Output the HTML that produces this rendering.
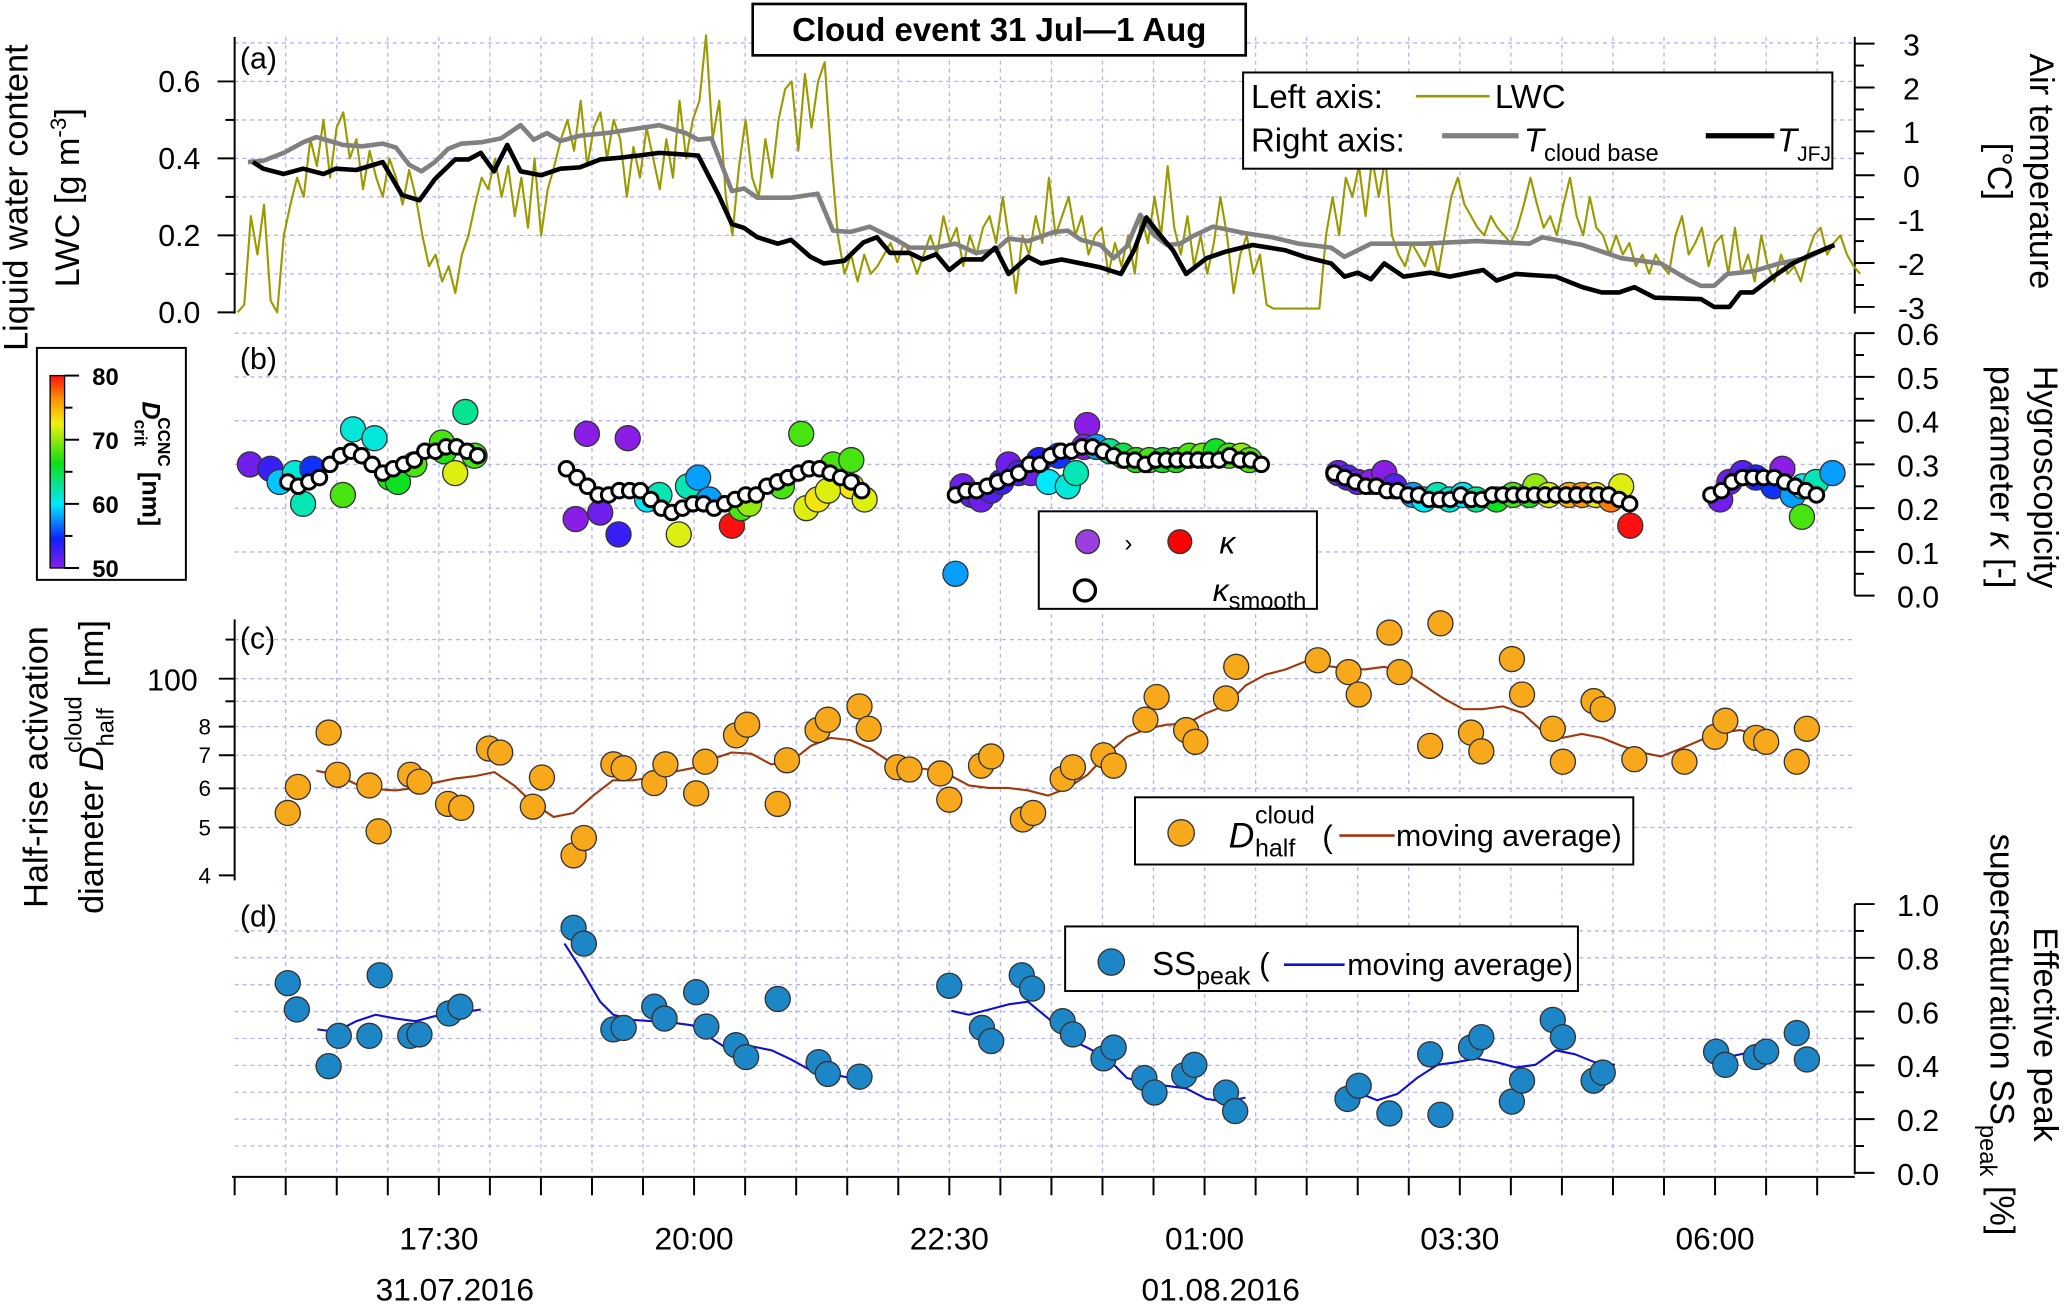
<!DOCTYPE html>
<html><head><meta charset="utf-8"><title>Cloud event 31 Jul–1 Aug</title>
<style>
html,body{margin:0;padding:0;background:#fff;}
svg{display:block;font-family:"Liberation Sans",Arial,sans-serif;}
</style></head>
<body>
<svg id="chart" xmlns="http://www.w3.org/2000/svg" width="2067" height="1306" viewBox="0 0 1568 991" preserveAspectRatio="none">
  <defs>
    <linearGradient id="cmap" x1="0" y1="1" x2="0" y2="0">
      <stop offset="0" stop-color="#8a1ee6"/>
      <stop offset="0.15" stop-color="#1020ff"/>
      <stop offset="0.33" stop-color="#00e8ff"/>
      <stop offset="0.55" stop-color="#10e010"/>
      <stop offset="0.75" stop-color="#f0f010"/>
      <stop offset="0.88" stop-color="#ff9000"/>
      <stop offset="1" stop-color="#ff1010"/>
    </linearGradient>
  </defs>
  <g id="grid"></g>
  <g id="axes"></g>
  <g id="marks"></g>

  <!-- title -->
  <g>
    <rect x="571" y="3" width="374" height="39" fill="#fff" stroke="#000" stroke-width="2"/>
    <text x="758" y="31" text-anchor="middle" font-size="25" font-weight="bold">Cloud event 31 Jul—1 Aug</text>
  </g>

  <!-- panel labels -->
  <text x="182" y="52" font-size="23">(a)</text>
  <text x="182" y="280" font-size="23">(b)</text>
  <text x="182" y="492" font-size="23">(c)</text>
  <text x="182" y="703" font-size="23">(d)</text>

  <!-- axis titles -->
  <g font-size="26">
    <text transform="translate(21,150) rotate(-90)" text-anchor="middle">Liquid water content</text>
    <text transform="translate(60,150) rotate(-90)" text-anchor="middle">LWC [g m<tspan dy="-10" font-size="17">-3</tspan><tspan dy="10">]</tspan></text>
  </g>
  <g font-size="26">
    <text transform="translate(36,582) rotate(-90)" text-anchor="middle">Half-rise activation</text>
    <text transform="translate(78,582) rotate(-90)" text-anchor="middle">diameter <tspan font-style="italic">D</tspan><tspan dy="8" font-size="18">half</tspan><tspan dx="-34" dy="-24" font-size="18">cloud</tspan><tspan dy="16"> [nm]</tspan></text>
  </g>
  <g font-size="26">
    <text transform="translate(1540,130) rotate(90)" text-anchor="middle">Air temperature</text>
    <text transform="translate(1508,130) rotate(90)" text-anchor="middle">[°C]</text>
  </g>
  <g font-size="26">
    <text transform="translate(1543,362) rotate(90)" text-anchor="middle">Hygroscopicity</text>
    <text transform="translate(1510,362) rotate(90)" text-anchor="middle">parameter <tspan font-style="italic">κ</tspan> [-]</text>
  </g>
  <g font-size="26">
    <text transform="translate(1543,785) rotate(90)" text-anchor="middle">Effective peak</text>
    <text transform="translate(1510,785) rotate(90)" text-anchor="middle">supersaturation SS<tspan dy="8" font-size="18">peak</tspan><tspan dy="-8"> [%]</tspan></text>
  </g>

  <!-- date labels -->
  <text x="345" y="987" text-anchor="middle" font-size="24">31.07.2016</text>
  <text x="926" y="987" text-anchor="middle" font-size="24">01.08.2016</text>

  <!-- colorbar -->
  <g>
    <rect x="28" y="264" width="113" height="176" fill="#fff" stroke="#000" stroke-width="1.5"/>
    <rect x="38" y="285" width="11" height="146" fill="url(#cmap)" stroke="#000" stroke-width="1"/>
    <g id="cbticks"></g>
    <text transform="translate(108,352) rotate(90)" text-anchor="middle" font-size="19" font-weight="bold"><tspan font-style="italic">D</tspan><tspan dy="6" font-size="13">crit</tspan><tspan dx="-22" dy="-18" font-size="13">CCNC</tspan><tspan dy="12" dx="4">[nm]</tspan></text>
  </g>

  <!-- legend a -->
  <g>
    <rect x="943" y="55" width="447" height="73" fill="#fff" stroke="#000" stroke-width="1.5"/>
    <text x="949" y="82" font-size="25">Left axis:</text>
    <line x1="1074" y1="73" x2="1130" y2="73" stroke="#9a9a00" stroke-width="2"/>
    <text x="1134" y="82" font-size="25">LWC</text>
    <text x="949" y="115" font-size="25">Right axis:</text>
    <line x1="1094" y1="103" x2="1152" y2="103" stroke="#808080" stroke-width="4"/>
    <text x="1156" y="115" font-size="25"><tspan font-style="italic">T</tspan><tspan dy="7" font-size="18">cloud base</tspan></text>
    <line x1="1294" y1="103" x2="1346" y2="103" stroke="#000" stroke-width="4"/>
    <text x="1348" y="115" font-size="25"><tspan font-style="italic">T</tspan><tspan dy="7" font-size="16">JFJ</tspan></text>
  </g>

  <!-- legend b -->
  <g>
    <rect x="788" y="388" width="211" height="74" fill="#fff" stroke="#000" stroke-width="1.5"/>
    <circle cx="825" cy="411" r="9" fill="#9b3fe0" stroke="#333" stroke-width="1"/>
    <text x="853" y="418" font-size="18">›</text>
    <circle cx="895" cy="411" r="9" fill="#ff0000" stroke="#333" stroke-width="1"/>
    <text x="925" y="420" font-size="24" font-style="italic">κ</text>
    <circle cx="823" cy="448" r="8" fill="#fff" stroke="#000" stroke-width="2.5"/>
    <text x="920" y="456" font-size="24"><tspan font-style="italic">κ</tspan><tspan dy="6" font-size="18">smooth</tspan></text>
  </g>

  <!-- legend c -->
  <g>
    <rect x="861" y="605" width="378" height="51" fill="#fff" stroke="#000" stroke-width="1.5"/>
    <circle cx="896" cy="632" r="10" fill="#f7a81b" stroke="#333" stroke-width="1"/>
    <text x="932" y="643" font-size="27" font-style="italic">D</text>
    <text x="952" y="650" font-size="19">half</text>
    <text x="952" y="625" font-size="19">cloud</text>
    <text x="1003" y="643" font-size="24">(</text>
    <line x1="1016" y1="634" x2="1058" y2="634" stroke="#a0380c" stroke-width="2"/>
    <text x="1059" y="642" font-size="23">moving average)</text>
  </g>

  <!-- legend d -->
  <g>
    <rect x="808" y="703" width="389" height="49" fill="#fff" stroke="#000" stroke-width="1.5"/>
    <circle cx="843" cy="730" r="10" fill="#1d86c6" stroke="#333" stroke-width="1"/>
    <text x="874" y="740" font-size="25">SS<tspan dy="7" font-size="19">peak</tspan><tspan dy="-7" font-size="24"> (</tspan></text>
    <line x1="974" y1="732" x2="1020" y2="732" stroke="#1010d0" stroke-width="2"/>
    <text x="1022" y="740" font-size="23">moving average)</text>
  </g>
</svg>

<script>
// ---------- DATA ----------
// time in hours since 15:30 on 31.07.2016
const lwcStartHour = 0.03;
const lwcStepHour = 0.0646;
const lwcValues = [0.0,0.02,0.25,0.15,0.28,0.03,0.0,0.2,0.28,0.35,0.3,0.45,0.38,0.5,0.35,0.48,0.52,0.4,0.45,0.32,0.42,0.35,0.3,0.4,0.35,0.28,0.37,0.3,0.2,0.12,0.15,0.08,0.12,0.05,0.15,0.2,0.28,0.35,0.32,0.4,0.3,0.38,0.25,0.35,0.22,0.4,0.2,0.32,0.38,0.45,0.5,0.42,0.55,0.38,0.48,0.52,0.4,0.5,0.45,0.3,0.43,0.35,0.48,0.4,0.32,0.45,0.35,0.55,0.4,0.5,0.55,0.72,0.45,0.55,0.3,0.2,0.38,0.5,0.35,0.3,0.45,0.35,0.5,0.58,0.6,0.42,0.62,0.48,0.6,0.65,0.4,0.2,0.1,0.15,0.08,0.15,0.1,0.12,0.15,0.18,0.13,0.18,0.15,0.1,0.15,0.2,0.15,0.25,0.18,0.22,0.12,0.2,0.15,0.22,0.25,0.18,0.3,0.18,0.05,0.2,0.15,0.25,0.18,0.35,0.2,0.25,0.3,0.2,0.25,0.15,0.2,0.22,0.1,0.18,0.12,0.2,0.1,0.25,0.18,0.3,0.2,0.38,0.22,0.15,0.25,0.12,0.2,0.1,0.18,0.3,0.2,0.05,0.15,0.2,0.1,0.15,0.02,0.01,0.01,0.01,0.01,0.01,0.01,0.01,0.01,0.2,0.3,0.2,0.35,0.3,0.38,0.25,0.4,0.3,0.4,0.2,0.15,0.12,0.18,0.15,0.12,0.18,0.1,0.2,0.3,0.35,0.28,0.25,0.22,0.2,0.25,0.22,0.2,0.18,0.22,0.28,0.35,0.28,0.22,0.25,0.2,0.28,0.35,0.25,0.2,0.3,0.22,0.2,0.15,0.2,0.15,0.18,0.12,0.15,0.1,0.15,0.12,0.1,0.2,0.25,0.15,0.18,0.22,0.12,0.18,0.2,0.1,0.22,0.1,0.15,0.08,0.2,0.12,0.08,0.15,0.1,0.12,0.08,0.15,0.2,0.22,0.15,0.18,0.2,0.15,0.12,0.1];

const tCloudTimes = [0.13,0.28,0.48,0.67,0.80,0.93,1.06,1.25,1.45,1.58,1.71,1.83,1.96,2.09,2.22,2.41,2.61,2.80,2.93,3.06,3.19,3.38,3.64,3.90,4.16,4.42,4.54,4.67,4.87,4.99,5.12,5.45,5.71,5.86,6.03,6.22,6.48,6.61,6.87,7.06,7.26,7.45,7.58,7.77,8.03,8.16,8.29,8.48,8.61,8.74,8.87,9.00,9.13,9.26,9.39,9.58,9.90,10.16,10.42,10.74,10.87,11.13,11.65,12.16,12.68,12.81,13.20,13.58,13.97,14.23,14.36,14.49,14.62,14.87,15.13,15.39,15.58];
const tCloudValues = [0.30,0.33,0.51,0.75,0.87,0.78,0.69,0.66,0.72,0.63,0.24,0.09,0.30,0.60,0.72,0.75,0.84,1.14,0.81,0.96,0.78,0.90,0.96,1.05,1.14,0.96,0.81,0.84,-0.36,-0.30,-0.51,-0.51,-0.42,-1.26,-1.29,-1.17,-1.47,-1.65,-1.65,-1.56,-1.77,-1.71,-1.44,-1.50,-1.29,-1.26,-1.47,-1.59,-1.89,-1.62,-0.90,-1.35,-1.59,-1.56,-1.38,-1.17,-1.32,-1.41,-1.56,-1.65,-1.86,-1.56,-1.56,-1.50,-1.56,-1.41,-1.59,-1.89,-2.01,-2.37,-2.52,-2.52,-2.25,-2.19,-2.01,-1.89,-1.68];

const tJfjTimes = [0.18,0.28,0.48,0.67,0.87,0.99,1.19,1.45,1.64,1.81,1.96,2.16,2.29,2.41,2.54,2.67,2.80,3.00,3.19,3.38,3.58,3.77,3.96,4.16,4.35,4.54,4.74,4.87,4.99,5.12,5.32,5.45,5.64,5.77,5.97,6.16,6.29,6.42,6.61,6.74,6.87,7.00,7.13,7.32,7.45,7.58,7.77,7.90,8.10,8.29,8.48,8.68,8.81,8.93,9.06,9.19,9.32,9.52,9.71,9.97,10.29,10.48,10.74,10.87,11.00,11.13,11.26,11.45,11.71,11.90,12.23,12.36,12.55,12.94,13.20,13.39,13.56,13.71,13.91,14.36,14.49,14.64,14.75,14.87,15.07,15.26,15.45,15.67];
const tJfjValues = [0.30,0.15,0.03,0.15,0.03,0.15,0.12,0.30,-0.45,-0.57,-0.09,0.36,0.36,0.51,0.09,0.69,0.09,0.0,0.15,0.18,0.36,0.40,0.45,0.51,0.48,0.45,-0.45,-1.11,-1.20,-1.41,-1.56,-1.47,-1.86,-2.01,-1.95,-1.53,-1.41,-1.77,-1.77,-1.92,-1.80,-2.16,-1.92,-1.92,-1.65,-2.25,-1.86,-2.01,-1.92,-2.01,-2.10,-2.25,-1.71,-0.96,-1.35,-1.71,-2.25,-1.89,-1.74,-1.59,-1.71,-1.86,-2.01,-2.31,-2.22,-2.37,-2.01,-2.31,-2.22,-2.31,-2.16,-2.40,-2.25,-2.31,-2.55,-2.67,-2.67,-2.55,-2.79,-2.82,-3.0,-3.0,-2.67,-2.67,-2.31,-2.01,-1.80,-1.59];

const kappaTimes = [0.15,0.35,0.44,0.59,0.67,0.76,1.06,1.16,1.37,1.52,1.60,1.76,2.05,2.03,2.16,2.26,2.35,
 3.34,3.45,3.58,3.76,3.85,4.04,4.16,4.35,4.44,4.54,4.65,4.87,4.96,5.04,5.36,5.55,5.60,5.71,5.86,6.04,6.04,6.17,5.81,
 7.06,7.13,7.22,7.31,7.41,7.51,7.58,7.68,7.80,7.88,7.97,8.07,8.16,8.24,8.35,8.32,8.44,8.57,8.70,8.83,8.96,9.09,9.22,9.35,9.48,9.61,9.74,9.86,9.94,
 10.81,10.90,11.00,11.13,11.26,11.36,11.54,11.65,11.78,11.90,12.03,12.16,12.36,12.52,12.68,12.74,12.87,13.07,13.20,13.33,13.48,13.58,13.67,
 14.55,14.64,14.77,14.90,15.07,15.16,15.26,15.36,15.49,15.65,15.35];
const kappaValues = [0.30,0.29,0.26,0.28,0.21,0.29,0.23,0.38,0.36,0.27,0.26,0.30,0.33,0.35,0.28,0.42,0.32,
 0.175,0.37,0.19,0.14,0.36,0.22,0.23,0.14,0.25,0.27,0.22,0.16,0.20,0.21,0.25,0.37,0.20,0.22,0.30,0.31,0.25,0.22,0.24,
 0.05,0.25,0.23,0.22,0.24,0.26,0.30,0.28,0.28,0.31,0.26,0.32,0.25,0.28,0.39,0.34,0.34,0.33,0.32,0.31,0.31,0.31,0.31,0.32,0.32,0.33,0.32,0.32,0.31,
 0.28,0.27,0.26,0.26,0.28,0.25,0.23,0.22,0.23,0.22,0.23,0.22,0.22,0.23,0.23,0.25,0.23,0.23,0.23,0.23,0.22,0.25,0.16,
 0.22,0.26,0.28,0.27,0.25,0.29,0.23,0.25,0.26,0.28,0.18];
const kappaDcrit = [51,53,59,61,62,55,68,61,61,67,66,68,67,68,72,63,68,
 50,50,51,53,50,60,62,72,62,58,58,80,68,70,68,68,72,73,68,68,73,72,72,
 58,51,52,51,52,53,51,52,51,54,60,55,61,62,50,50,58,63,65,67,68,66,67,68,69,66,68,70,68,
 51,52,51,50,50,52,58,60,62,61,60,63,66,68,67,70,72,75,76,73,77,72,80,
 51,51,52,54,55,50,58,60,62,58,68];

const kSmoothStarts = [0.52, 3.25, 7.06, 10.77, 14.46];
const kSmoothStep = 0.1033;
const kSmooth1 = [0.26,0.25,0.26,0.27,0.30,0.32,0.33,0.32,0.30,0.28,0.29,0.30,0.31,0.33,0.33,0.34,0.34,0.33,0.32];
const kSmooth2 = [0.29,0.27,0.25,0.23,0.23,0.24,0.24,0.24,0.22,0.20,0.19,0.20,0.21,0.21,0.20,0.21,0.22,0.23,0.23,0.25,0.26,0.27,0.28,0.29,0.29,0.28,0.27,0.26,0.24];
const kSmooth3 = [0.23,0.24,0.24,0.25,0.26,0.27,0.28,0.30,0.30,0.32,0.33,0.33,0.34,0.34,0.33,0.32,0.31,0.31,0.30,0.31,0.31,0.31,0.31,0.31,0.31,0.31,0.32,0.31,0.31,0.30];
const kSmooth4 = [0.28,0.27,0.26,0.25,0.25,0.24,0.24,0.23,0.23,0.22,0.22,0.22,0.23,0.22,0.22,0.23,0.23,0.23,0.23,0.23,0.23,0.23,0.23,0.23,0.23,0.23,0.23,0.22,0.21];
const kSmooth5 = [0.23,0.24,0.26,0.27,0.27,0.27,0.27,0.26,0.25,0.24,0.23];

const dhalfTimes = [0.52,0.62,0.92,1.01,1.32,1.41,1.72,1.81,2.09,2.22,2.49,2.60,2.92,3.01,3.32,3.42,3.71,3.81,4.11,4.22,4.52,4.61,4.91,5.02,5.32,5.41,5.71,5.81,6.12,6.21,6.49,6.61,6.91,7.00,7.31,7.41,7.72,7.82,8.11,8.21,8.51,8.61,8.92,9.03,9.32,9.41,9.71,9.81,10.61,10.91,11.01,11.31,11.41,11.71,11.81,12.11,12.21,12.51,12.61,12.91,13.01,13.31,13.40,13.71,14.20,14.50,14.60,14.90,15.00,15.30,15.40];
const dhalfValues = [53.5,60.4,77.8,63.9,60.8,49.1,63.9,61.9,55.8,54.8,72.2,70.9,55.1,63.1,43.9,47.6,67.1,65.9,61.5,67.1,58.6,67.9,76.8,80.7,55.8,68.4,78.7,82.6,87.9,79.2,66.2,65.5,64.3,56.9,66.7,69.6,51.9,53.5,62.7,66.2,70.0,66.7,82.6,91.8,78.7,74.5,91.2,105.7,109,103.1,92.9,124,103.1,73.1,129.4,77.8,71.3,109.6,92.9,79.2,67.9,90.1,86.8,68.7,67.9,76.3,82.2,75.9,74.5,67.9,79.2];
const dAvgStart = 0.80;
const dAvgStep = 0.1937;
const dAvgValues = [65.1,64.0,61.2,59.8,59.4,60.1,61.6,62.8,63.5,64.7,60.8,55.8,52.5,53.5,58.0,62.3,62.3,63.1,64.7,65.9,68.7,70.9,70.5,67.1,67.9,73.1,75.9,75.1,72.2,67.9,66.2,65.5,63.9,60.8,60.1,60.1,59.4,58.0,60.1,63.9,70.5,76.3,79.2,80.7,81.1,85.2,88.4,97.0,101.9,104.4,108.3,106.3,105.0,104.4,105.7,103.1,97.0,91.2,86.8,86.8,87.9,85.2,78.2,75.9,77.3,75.9,73.1,70.9,69.6,72.2,75.1,77.8,78.7,76.8];

const ssTimes = [0.52,0.61,0.92,1.02,1.32,1.42,1.72,1.81,2.10,2.21,3.32,3.42,3.71,3.81,4.11,4.21,4.52,4.62,4.91,5.01,5.32,5.72,5.81,6.12,7.00,7.32,7.41,7.71,7.81,8.11,8.21,8.51,8.61,8.91,9.01,9.30,9.40,9.71,9.80,10.90,11.01,11.31,11.71,11.81,12.11,12.21,12.51,12.61,12.91,13.01,13.31,13.40,14.51,14.60,14.90,15.00,15.30,15.40];
const ssValues = [0.706,0.608,0.397,0.51,0.51,0.735,0.51,0.515,0.593,0.618,0.912,0.853,0.534,0.539,0.618,0.574,0.672,0.544,0.475,0.431,0.647,0.412,0.368,0.358,0.696,0.539,0.49,0.735,0.686,0.564,0.515,0.426,0.466,0.353,0.299,0.363,0.402,0.299,0.23,0.275,0.324,0.221,0.441,0.216,0.466,0.505,0.265,0.343,0.569,0.505,0.343,0.373,0.451,0.402,0.431,0.451,0.52,0.422];
const ssAvgTimes = [
 [0.81,0.99,1.19,1.38,1.58,1.77,1.96,2.16,2.41],
 [3.23,3.38,3.58,3.71,3.90,4.09,4.29,4.48,4.67,4.87,5.06,5.26,5.45,5.64,5.84,6.03,6.22],
 [7.02,7.19,7.39,7.58,7.77,7.97,8.16,8.35,8.55,8.74,8.93,9.13,9.32,9.52,9.71,9.90],
 [10.81,11.0,11.19,11.39,11.58,11.78,11.97,12.16,12.36,12.55,12.74,12.94,13.13,13.32,13.52],
 [14.46,14.68,14.87,15.07]];
const ssAvgValues = [
 [0.534,0.525,0.564,0.588,0.574,0.564,0.583,0.593,0.608],
 [0.853,0.765,0.637,0.588,0.569,0.564,0.559,0.549,0.5,0.451,0.471,0.456,0.422,0.382,0.368,0.353,0.358],
 [0.603,0.588,0.608,0.627,0.637,0.574,0.5,0.466,0.426,0.353,0.333,0.324,0.314,0.275,0.265,0.28],
 [0.304,0.299,0.27,0.294,0.353,0.402,0.412,0.426,0.412,0.392,0.402,0.456,0.441,0.412,0.402],
 [0.451,0.436,0.451,0.471]];

const timeTickHours = [2,4.5,7,9.5,12,14.5];
const timeTickLabels = ["17:30","20:00","22:30","01:00","03:30","06:00"];
const lwcTicks = [0.0,0.2,0.4,0.6];
const tempTicks = [3,2,1,0,-1,-2,-3];
const kappaTicks = [0.0,0.1,0.2,0.3,0.4,0.5,0.6];
const dTicks = [40,50,60,70,80,100];
const dTickLabels = ["4","5","6","7","8","100"];
const ssTicks = [0.0,0.2,0.4,0.6,0.8,1.0];
const cbTicks = [50,60,70,80];

// ---------- SCALES ----------
const X = t => 178 + t*77.45;
const yLWC = v => 237 - v*292;
const yT = v => 133 - v*33.3;
const yK = v => 452 - v*332;
const yD = v => 515 - 375*Math.log10(v/100);
const ySS = v => 890 - v*204;
const yCB = v => 431 - (v-50)/30*146;

const NS = "http://www.w3.org/2000/svg";
function el(tag, parent){ const e=document.createElementNS(NS,tag); parent.appendChild(e); return e; }
const grid=document.getElementById('grid'), axes=document.getElementById('axes'), marks=document.getElementById('marks');

function dcolor(d){
  const stops=[[50,[138,30,230]],[54.5,[16,32,255]],[60,[0,232,255]],[66.5,[16,224,16]],[72.5,[240,240,16]],[76.4,[255,144,0]],[80,[255,16,16]]];
  if(d<=50) d=50; if(d>=80) d=80;
  for(let i=0;i<stops.length-1;i++){ const [a,ca]=stops[i],[b,cb]=stops[i+1];
    if(d>=a&&d<=b){const f=(d-a)/(b-a); return 'rgb('+ca.map((c,j)=>Math.round(c+(cb[j]-c)*f)).join(',')+')';}}
  return 'red';
}
function line(parent,x1,y1,x2,y2,stroke,w,dash){ const l=el('line',parent); l.setAttribute('x1',x1);l.setAttribute('y1',y1);l.setAttribute('x2',x2);l.setAttribute('y2',y2);l.setAttribute('stroke',stroke);l.setAttribute('stroke-width',w); if(dash) l.setAttribute('stroke-dasharray',dash); return l; }
function txt(parent,x,y,s,size,anchor){ const t=el('text',parent); t.setAttribute('x',x);t.setAttribute('y',y);t.setAttribute('font-size',size);t.setAttribute('text-anchor',anchor||'start');t.textContent=s; return t; }

// ---------- GRID ----------
const gc='#b4b4f0', gd='3,3';
for(let t=0.5;t<=15.5;t+=0.5){ const g=line(grid,X(t),28,X(t),890,gc,1,gd);
  
   }
for(let v=0.1;v<=0.71;v+=0.1){ const g=line(grid,178,yLWC(v),1407,yLWC(v),gc,1,gd);
  
   }
for(let v=0.1;v<=0.61;v+=0.1){ const g=line(grid,178,yK(v),1407,yK(v),gc,1,gd);
  
   }
[50,60,70,80,90,100,120].forEach(v=>{ const g=line(grid,178,yD(v),1407,yD(v),gc,1,gd);
  
   });
for(let v=0.1;v<=0.91;v+=0.1){ const g=line(grid,178,ySS(v),1407,ySS(v),gc,1,gd);
  
   }

// ---------- AXES ----------
let a;
a=line(axes,178,28,178,238,'#000',1.5);  
lwcTicks.forEach(v=>{ line(axes,165,yLWC(v),178,yLWC(v),'#000',1.5); const t=txt(axes,152,yLWC(v)+8,v.toFixed(1),23,'end');
  
   });
[0.1,0.3,0.5].forEach(v=>line(axes,171,yLWC(v),178,yLWC(v),'#000',1.5));
a=line(axes,1407,28,1407,238,'#000',1.5);  
tempTicks.forEach(v=>{ line(axes,1407,yT(v),1422,yT(v),'#000',1.5); const t=txt(axes,1450,yT(v)+9,String(v),23,'middle');
  
   });
for(let v=-2.5;v<3;v+=1) line(axes,1407,yT(v),1414,yT(v),'#000',1.5);
a=line(axes,1407,253,1407,452,'#000',1.5);  
kappaTicks.forEach(v=>{ line(axes,1407,yK(v),1422,yK(v),'#000',1.5); const t=txt(axes,1455,yK(v)+9,v.toFixed(1),23,'middle');
  
   });
for(let v=0.05;v<0.6;v+=0.1) line(axes,1407,yK(v),1414,yK(v),'#000',1.5);
a=line(axes,178,470,178,668,'#000',1.5);  
dTicks.forEach((v,i)=>{ line(axes,166,yD(v),178,yD(v),'#000',1.5); const t=txt(axes,i==5?150:160,yD(v)+(i==5?9:6),dTickLabels[i],i==5?23:17,'end');
  
   });
[90,120].forEach(v=>line(axes,171,yD(v),178,yD(v),'#000',1.5));
a=line(axes,1407,686,1407,891,'#000',1.5);  
ssTicks.forEach(v=>{ line(axes,1407,ySS(v),1422,ySS(v),'#000',1.5); const t=txt(axes,1455,ySS(v)+9,v.toFixed(1),23,'middle');
  
   });
for(let v=0.1;v<1;v+=0.2) line(axes,1407,ySS(v),1414,ySS(v),'#000',1.5);
a=line(axes,176,893,1407,893,'#000',1.5);  
for(let t=0;t<=15.51;t+=0.5) line(axes,X(t),893,X(t),907,'#000',1.5);
timeTickHours.forEach((h,i)=>{ const t=txt(axes,X(h),948,timeTickLabels[i],24,'middle');
  
   });
const cbg=document.getElementById('cbticks');
cbTicks.forEach(v=>{ line(cbg,49,yCB(v),60,yCB(v),'#000',1.5); const t=txt(cbg,70,yCB(v)+7,String(v),18,'start'); t.setAttribute('font-weight','bold');
  
   });
[55,65,75].forEach(v=>line(cbg,49,yCB(v),55,yCB(v),'#000',1.5));

// ---------- SERIES ----------
function poly(parent, pts, stroke, w){ const p=el('polyline',parent); p.setAttribute('points',pts.map(q=>q[0].toFixed(1)+','+q[1].toFixed(1)).join(' ')); p.setAttribute('fill','none'); p.setAttribute('stroke',stroke); p.setAttribute('stroke-width',w); p.setAttribute('stroke-linejoin','round'); return p; }
function circ(parent,cx,cy,r,fill,stroke,w){ const c=el('circle',parent); c.setAttribute('cx',cx.toFixed(1)); c.setAttribute('cy',cy.toFixed(1)); c.setAttribute('r',r); c.setAttribute('fill',fill); c.setAttribute('stroke',stroke); c.setAttribute('stroke-width',w); return c; }

let s;
s=poly(marks, lwcValues.map((v,i)=>[X(lwcStartHour+i*lwcStepHour), yLWC(v)]), '#9a9a00', 1.6);


s=poly(marks, tCloudTimes.map((t,i)=>[X(t), yT(tCloudValues[i])]), '#808080', 3.5);


s=poly(marks, tJfjTimes.map((t,i)=>[X(t), yT(tJfjValues[i])]), '#000', 3.5);



kappaTimes.forEach((t,i)=>{ const c=circ(marks,X(t),yK(kappaValues[i]),9.5,dcolor(kappaDcrit[i]),'#333',1);
  
   });
[kSmooth1,kSmooth2,kSmooth3,kSmooth4,kSmooth5].forEach((arr,j)=>{ arr.forEach((v,i)=>{
  const c=circ(marks,X(kSmoothStarts[j]+i*kSmoothStep),yK(v),5.5,'#fff','#000',2.3);
  
   }); });

s=poly(marks, dAvgValues.map((v,i)=>[X(dAvgStart+i*dAvgStep), yD(v)]), '#a0380c', 1.6);


dhalfTimes.forEach((t,i)=>{ const c=circ(marks,X(t),yD(dhalfValues[i]),9.5,'#f7a81b','#333',1);
  
   });

ssAvgTimes.forEach((ts,j)=>{ const p=poly(marks, ts.map((t,i)=>[X(t), ySS(ssAvgValues[j][i])]), '#1010d0', 1.6);
  
   });
ssTimes.forEach((t,i)=>{ const c=circ(marks,X(t),ySS(ssValues[i]),9.5,'#1d86c6','#333',1);
  
   });
</script>
</body></html>
